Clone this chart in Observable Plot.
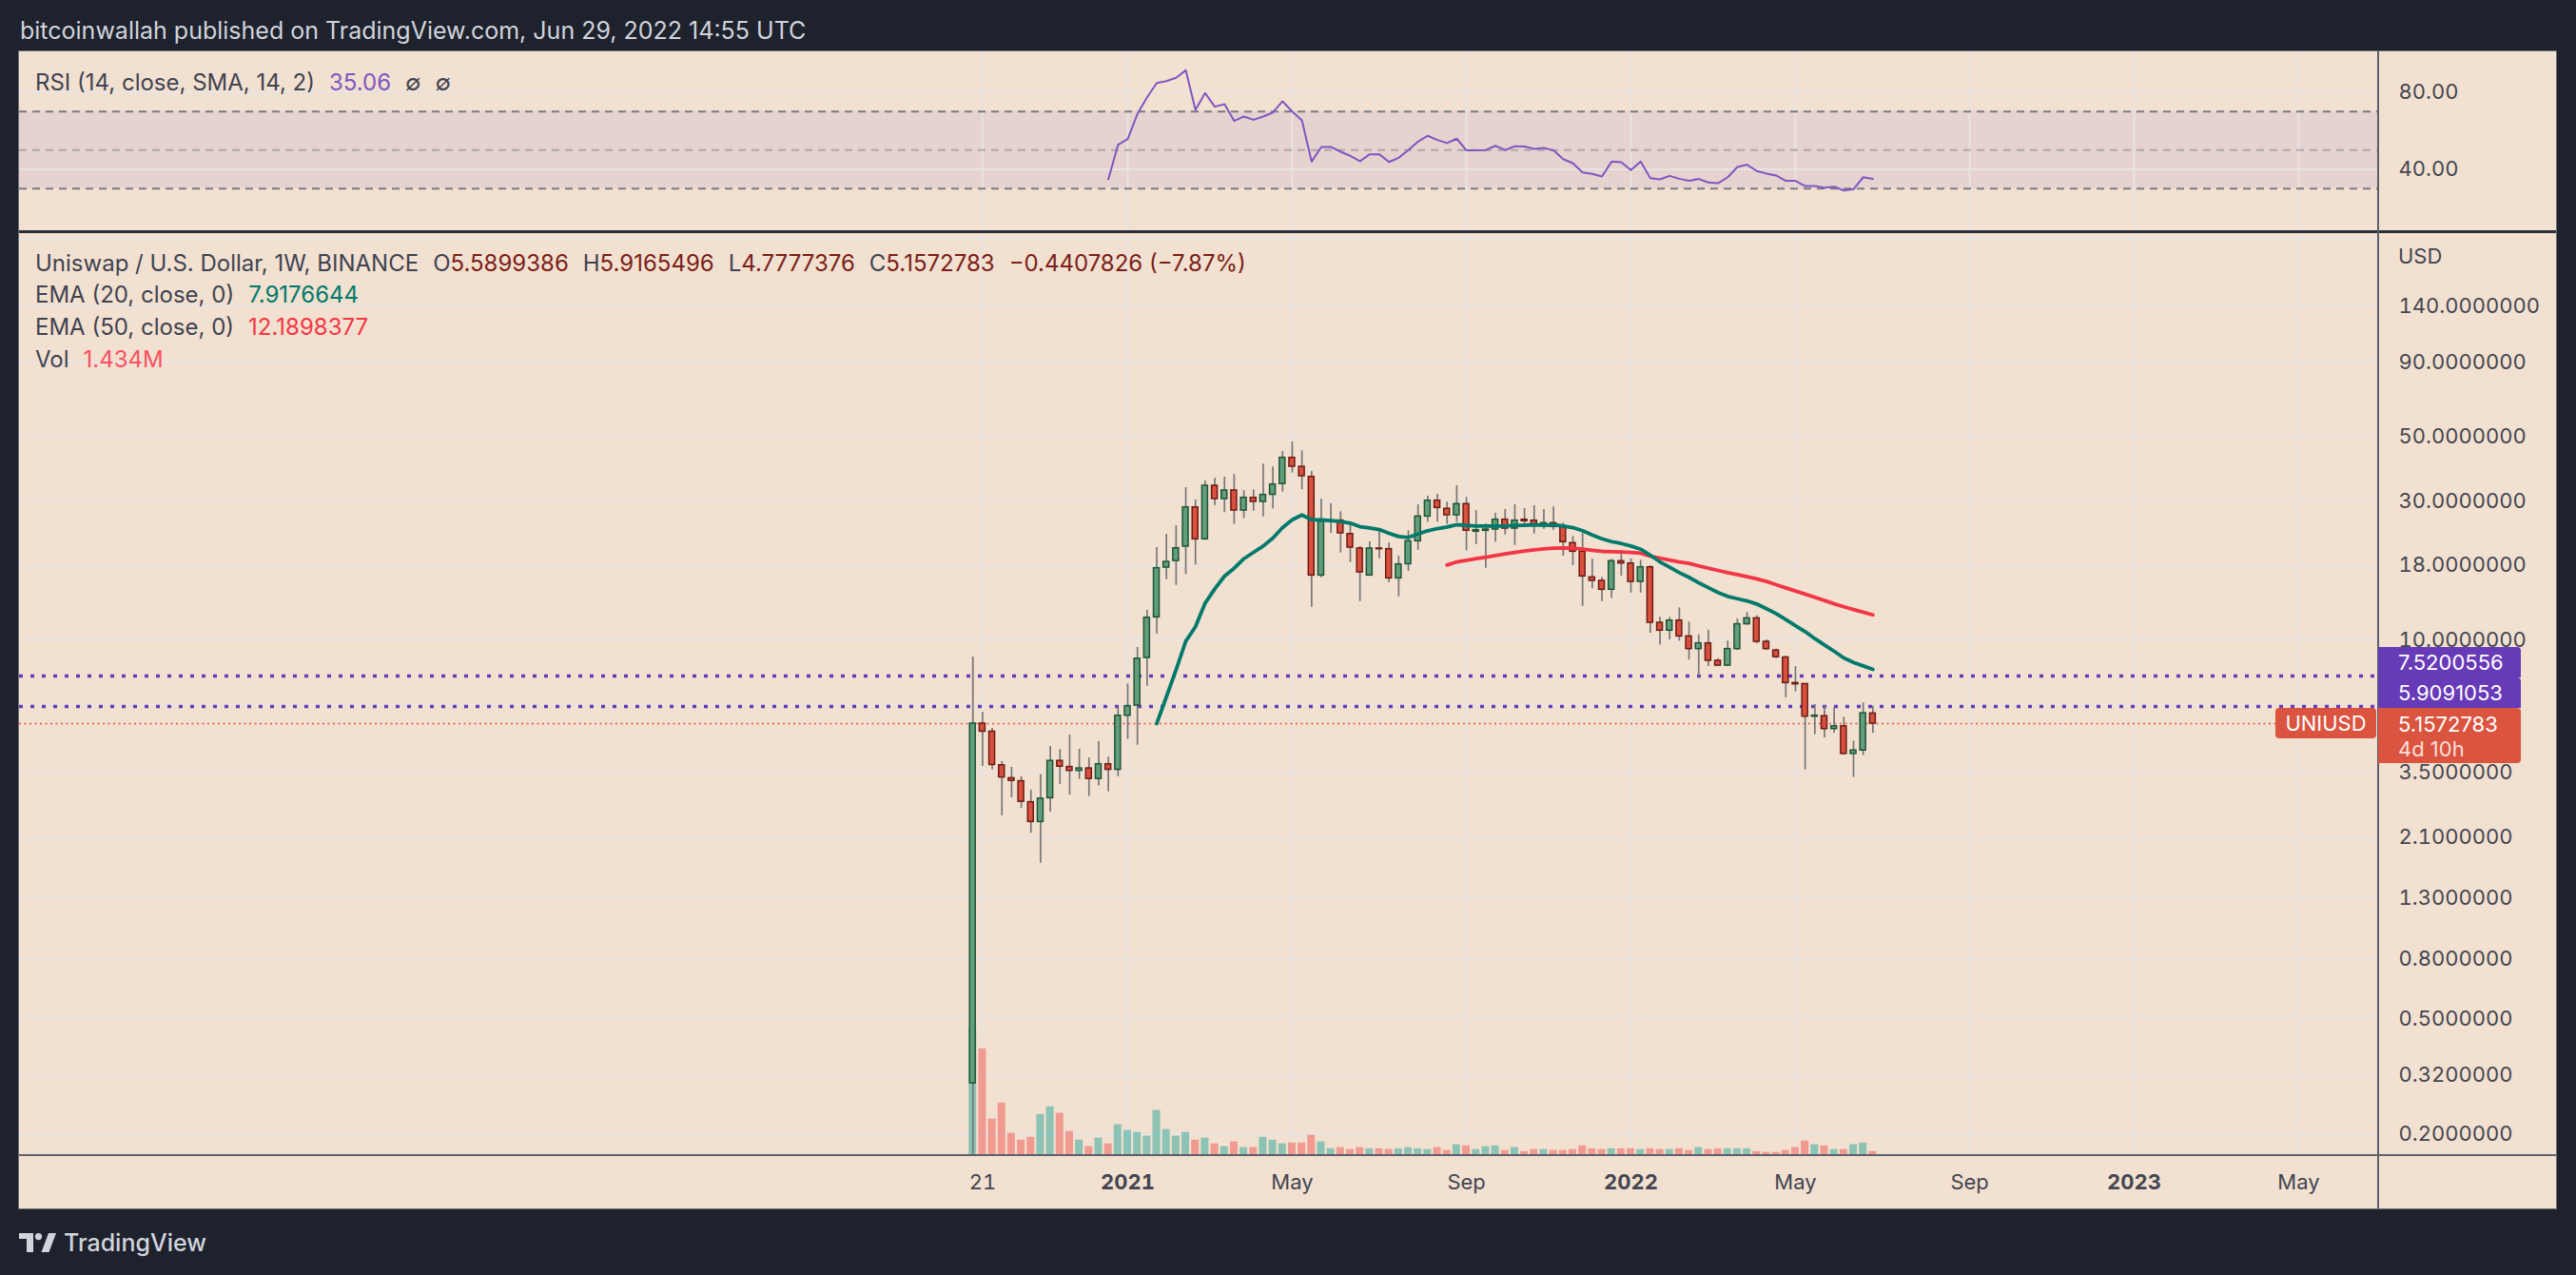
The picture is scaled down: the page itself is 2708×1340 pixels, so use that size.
<!DOCTYPE html>
<html>
<head>
<meta charset="utf-8">
<script src="https://cdn.jsdelivr.net/npm/d3@7"></script>
<script src="https://cdn.jsdelivr.net/npm/@observablehq/plot@0.6"></script>
<style>
html,body{margin:0;padding:0;background:#1e222d;}
body{width:2708px;height:1340px;position:relative;overflow:hidden;font-family:Inter,"Noto Sans",sans-serif;}
#root{position:absolute;left:0;top:0;width:2708px;height:1340px;}
.abs{position:absolute;white-space:nowrap;}
.legend{position:absolute;white-space:nowrap;font-size:24px;line-height:26px;color:#3f4350;}
.legend span{display:inline-block;}
.gap{margin-left:15px;}
.box{position:absolute;color:#fff;font-size:22px;box-sizing:border-box;padding-left:21px;}
svg{max-width:none !important;}
</style>
</head>
<body>
<div id="root"></div>
<script>
// ---------------- data ----------------
const firstWeek = "2020-09-14"; // first weekly bar (Monday)
const open = [0.30,5.16,4.84,3.71,3.35,3.27,2.77,2.37,2.86,3.84,
  3.66,3.55,3.62,3.33,3.74,3.58,5.49,5.95,8.67,11.95,
  17.72,18.67,20.91,28.52,22.15,33.84,30.46,32.60,27.82,30.76,
  29.78,31.50,34.30,42.20,39.30,36.30,16.64,25.45,25.70,23.10,
  20.60,16.64,20.60,20.49,16.27,18.20,21.82,26.53,30.07,28.20,
  26.80,29.27,23.53,23.70,23.94,25.87,24.12,25.87,25.68,24.91,
  25.18,24.43,21.50,20.09,16.40,15.95,14.87,18.63,18.30,15.82,
  17.76,11.45,10.76,11.65,10.28,9.30,9.73,8.48,8.16,9.30,
  11.32,11.86,9.85,9.20,8.70,7.11,7.05,5.45,5.47,4.94,
  5.05,4.06,4.17,5.5899386];
const high = [8.73,5.63,4.97,3.82,3.65,3.39,3.05,3.45,4.31,4.20,
  4.71,4.21,3.93,4.47,3.96,5.85,7.06,9.42,12.63,20.75,
  23.05,24.67,33.34,30.23,35.14,35.94,36.20,36.95,32.52,32.77,
  40.14,39.25,44.37,47.83,44.60,37.88,30.46,29.33,27.55,25.23,
  20.91,21.71,23.99,21.54,19.39,23.71,29.11,31.15,31.62,29.72,
  33.84,30.85,27.82,25.05,27.21,28.04,29.11,28.25,28.89,28.04,
  28.61,25.18,22.65,23.23,18.92,16.40,18.92,20.24,19.00,18.77,
  18.00,11.95,11.95,12.88,11.51,10.41,10.81,8.62,9.90,11.80,
  12.41,12.10,10.00,9.30,8.80,8.10,7.08,6.00,5.92,5.85,
  5.42,4.49,6.07,5.9165496];
const low = [0.17,3.68,3.58,2.49,2.87,2.64,2.17,1.71,2.56,3.19,
  2.93,3.32,2.90,3.15,3.01,3.39,4.55,4.35,6.93,10.49,
  16.10,15.39,16.77,18.08,21.99,28.96,27.35,24.91,26.14,27.68,
  26.46,28.18,32.18,37.41,32.77,12.94,16.35,23.23,19.88,18.44,
  13.54,16.60,19.00,15.74,14.06,17.19,20.33,25.37,25.37,24.91,
  25.37,20.24,21.27,17.63,21.66,22.94,21.11,24.43,23.10,23.99,
  23.82,19.39,18.00,13.04,14.98,13.54,13.89,16.56,14.49,14.49,
  10.54,9.61,10.00,9.90,8.52,7.51,8.10,8.10,8.10,9.20,
  11.25,9.70,9.20,8.62,6.33,6.63,3.58,4.72,4.61,4.78,
  4.03,3.37,4.01,4.7777376];
const close = [5.16,4.84,3.72,3.37,3.28,2.78,2.37,2.85,3.84,3.67,
  3.55,3.62,3.33,3.74,3.58,5.49,5.92,8.62,11.92,17.63,
  18.53,20.64,28.52,22.15,33.84,30.46,32.60,27.82,30.76,29.78,
  31.47,34.18,42.20,39.34,36.48,16.64,25.49,25.70,23.23,20.75,
  17.06,20.60,20.49,16.27,18.16,21.82,26.53,30.07,28.39,26.80,
  29.27,23.71,23.82,23.94,25.87,24.12,25.68,25.56,24.91,25.18,
  24.43,21.66,20.09,16.52,15.95,14.87,18.63,18.30,15.82,17.76,
  11.45,10.76,11.65,10.28,9.30,9.73,8.48,8.16,9.30,11.32,
  11.86,9.85,9.30,8.73,7.11,7.04,5.45,5.49,4.94,5.05,
  4.06,4.17,5.5980609,5.1572783];
// weekly volume, millions of UNI
const volume = [45,37.4,12.8,18.4,7.8,5.4,6.4,14.4,17.1,14.8,
  8.4,5.4,3.1,6.1,4.1,10.8,8.8,8.1,6.8,15.8,
  9.1,6.8,8.1,5.4,6.1,4.1,3.1,4.8,2.8,2.8,
  6.4,5.4,4.1,4.4,4.4,7.1,4.8,2.4,2.8,2.1,
  2.8,2.4,2.4,2.1,2.4,2.8,2.4,2.1,2.8,1.8,
  3.8,3.4,2.1,3.1,3.4,1.8,2.8,1.4,2.1,2.1,
  1.8,1.8,2.1,3.4,2.4,2.1,2.4,2.4,2.4,2.1,
  2.4,2.1,2.1,2.4,1.8,2.8,2.1,2.4,2.4,2.4,
  2.4,1.4,1.1,1.1,1.8,2.8,5.1,3.8,3.4,2.1,
  2.1,3.8,4.4,1.434];
// RSI(14) from the 15th bar
const rsi = [34.9,52.7,55.7,68.7,77.4,84.8,85.8,87.5,91.4,70.8,
  79.6,72.5,73.8,65.1,67.4,65.7,67.4,69.5,75.3,70.0,
  65.4,44.0,51.6,51.6,49.1,47.0,44.2,47.8,47.8,43.8,
  46.0,50.0,54.4,57.4,55.2,53.6,55.9,49.8,49.8,50.0,
  52.2,50.0,52.0,51.8,50.6,51.1,49.8,45.3,43.2,38.4,
  37.6,36.3,44.0,43.7,39.6,44.0,35.4,34.8,36.6,35.1,
  34.0,35.0,33.2,32.8,35.9,41.2,42.4,39.1,37.8,36.8,
  34.0,34.0,31.3,31.3,30.5,31.0,29.0,29.7,35.9,35.06];
// EMA 20 from the 20th bar
const ema20 = [5.16,6.38,7.90,9.90,11.09,13.38,14.98,16.56,17.63,19.00,
  19.98,21.01,22.37,24.30,25.87,26.86,25.87,25.81,25.68,25.49,
  25.18,24.48,24.25,23.94,23.23,22.65,22.49,23.10,23.71,24.12,
  24.43,24.86,24.73,24.61,24.61,24.61,24.61,24.73,24.73,24.86,
  24.73,24.86,24.61,24.30,23.71,22.94,22.25,21.75,21.43,21.01,
  20.49,19.54,18.53,17.76,17.02,16.40,15.71,15.12,14.54,14.10,
  13.85,13.61,13.28,12.79,12.31,11.74,11.19,10.68,10.10,9.61,
  9.14,8.67,8.37,8.14,7.9176644];
// EMA 50 from the 50th bar
const ema50 = [18.08,18.53,18.77,19.00,19.24,19.49,19.73,19.98,20.18,20.39,
  20.54,20.64,20.70,20.64,20.49,20.30,20.14,20.09,20.04,19.98,
  19.84,19.39,19.10,18.80,18.53,18.30,17.95,17.63,17.32,17.02,
  16.77,16.47,16.20,15.87,15.48,15.09,14.72,14.36,14.00,13.65,
  13.30,12.99,12.72,12.46,12.1898377];
const levels = [7.5200556, 5.9091053];
const priceGridTicks = [240,140,90,50,30,18,10,6,3.5,2.1,1.3,0.8,0.5,0.32,0.2];
const priceLabelTicks = [140,90,50,30,18,10,3.5,2.1,1.3,0.8,0.5,0.32,0.2];
const rsiTicks = [80,40];
const rsiBands = [70,50,30];
const timeTickDays = ["2020-09-21","2021-01-04","2021-05-03","2021-09-06","2022-01-03","2022-05-02","2022-09-05","2023-01-02","2023-05-01"];
const timeLabels = ["21","2021","May","Sep","2022","May","Sep","2023","May"];
const headerText = "bitcoinwallah published on TradingView.com, Jun 29, 2022 14:55 UTC";
const symbolText = "Uniswap / U.S. Dollar, 1W, BINANCE";
const countdown = "4d 10h";

// ---------------- build ----------------
const DAY = 864e5;
const root = document.getElementById("root");
const start = new Date(firstWeek + "T00:00:00Z");
const bars = open.map((o, i) => ({date: d3.utcDay.offset(start, 7 * i), open: o, high: high[i], low: low[i], close: close[i], volume: volume[i]}));
const up = bars.filter(d => d.close >= d.open);
const down = bars.filter(d => d.close < d.open);
const rsiData = rsi.map((v, i) => ({date: bars[i + 14].date, v}));
const ema20Data = ema20.map((v, i) => ({date: bars[i + 19].date, v}));
const ema50Data = ema50.map((v, i) => ({date: bars[i + 49].date, v}));
const tickDates = timeTickDays.map(s => new Date(s + "T00:00:00Z"));
const labelOf = new Map(tickDates.map((d, i) => [+d, timeLabels[i]]));
const isYear = s => /^\d{4}$/.test(s);
const yearTicks = tickDates.filter((d, i) => isYear(timeLabels[i]));
const otherTicks = tickDates.filter((d, i) => !isYear(timeLabels[i]));

// layout
const PANEL_L = 20, PANEL_T = 54, PANEL_R = 2687, PANEL_B = 1270;
const W = PANEL_R - PANEL_L;          // plot svg width
const MR = 187;                       // price-axis column
const RSI_T = 54, RSI_H = 189;
const MAIN_T = 246, MAIN_H = 968, TIME_H = 56;
const t0 = Date.UTC(2021, 0, 4);
const xDomain = [new Date(t0 - 801.6 * DAY), new Date(t0 + 904.8 * DAY)];
const yDomain = [0.1694, 246.7];
const volMax = 322.6;

const GRID = "#e8e4e2";
const TEXT = "#434651";
const GREEN_F = "#629e7c", GREEN_S = "#1d5536";
const RED_F = "#d9503f", RED_S = "#6b1c13";
const baseStyle = {background: "transparent", fontFamily: "Inter, 'Noto Sans', sans-serif", fontSize: "22px", color: TEXT, overflow: "visible"};

function place(el, left, top) {
  el.style.position = "absolute";
  el.style.left = left + "px";
  el.style.top = top + "px";
  root.appendChild(el);
  return el;
}
function div(cls, html, left, top, css) {
  const d = document.createElement("div");
  d.className = cls;
  d.innerHTML = html;
  if (css) Object.assign(d.style, css);
  return place(d, left, top);
}

// panel background
div("abs", "", PANEL_L - 1, PANEL_T - 1, {width: W + "px", height: (PANEL_B - PANEL_T) + "px", background: "#f2e0d0", border: "1px solid #6f727c"});

// header
div("abs", headerText, 21, 16, {fontSize: "25px", lineHeight: "32px", color: "#d1d4dc"});

// RSI pane
const rsiPlot = Plot.plot({
  width: W, height: RSI_H, marginLeft: 0, marginRight: MR, marginTop: 0, marginBottom: 0,
  x: {type: "utc", domain: xDomain, axis: null},
  y: {domain: [7.63, 100.96]},
  style: baseStyle,
  marks: [
    Plot.rect([0], {x1: () => xDomain[0], x2: () => xDomain[1], y1: () => rsiBands[2], y2: () => rsiBands[0], fill: "#7e57c2", fillOpacity: 0.1}),
    Plot.ruleY(rsiTicks, {stroke: GRID, strokeWidth: 2}),
    Plot.ruleX(tickDates, {stroke: GRID, strokeWidth: 2}),
    Plot.ruleY([rsiBands[0], rsiBands[2]], {stroke: "#787b86", strokeWidth: 2, strokeDasharray: "8,6"}),
    Plot.ruleY([rsiBands[1]], {stroke: "#787b86", strokeOpacity: 0.5, strokeWidth: 2, strokeDasharray: "8,6"}),
    Plot.line(rsiData, {x: "date", y: "v", stroke: "#7e57c2", strokeWidth: 2}),
    Plot.axisY(rsiTicks, {anchor: "right", tickSize: 0, tickPadding: 21, tickFormat: d => d.toFixed(2), label: null})
  ]
});
place(rsiPlot, PANEL_L, RSI_T);

// separator between panes
div("abs", "", PANEL_L, 242, {width: W + "px", height: "3px", background: "#2a2e39"});

// main pane: grid + axes
const gridPlot = Plot.plot({
  width: W, height: MAIN_H + TIME_H, marginLeft: 0, marginRight: MR, marginTop: 0, marginBottom: TIME_H,
  x: {type: "utc", domain: xDomain},
  y: {type: "log", domain: yDomain},
  style: baseStyle,
  marks: [
    Plot.ruleY(priceGridTicks, {stroke: GRID, strokeWidth: 2}),
    Plot.ruleX(tickDates, {stroke: GRID, strokeWidth: 2}),
    Plot.axisY(priceLabelTicks, {anchor: "right", tickSize: 0, tickPadding: 21, tickFormat: d => d.toFixed(7), label: null}),
    Plot.axisX(otherTicks, {anchor: "bottom", tickSize: 0, tickPadding: 20, tickFormat: d => labelOf.get(+d), label: null}),
    Plot.axisX(yearTicks, {anchor: "bottom", tickSize: 0, tickPadding: 20, tickFormat: d => labelOf.get(+d), label: null, fontWeight: "bold"})
  ]
});
place(gridPlot, PANEL_L, MAIN_T);

// volume overlay
const volPlot = Plot.plot({
  width: W, height: MAIN_H, marginLeft: 0, marginRight: MR, marginTop: 0, marginBottom: 0,
  x: {type: "utc", domain: xDomain, axis: null},
  y: {domain: [0, volMax], axis: null},
  style: baseStyle,
  marks: [
    Plot.rectY(up, {x1: d => new Date(+d.date - 3.5 * DAY), x2: d => new Date(+d.date + 3.5 * DAY), y: "volume", fill: "rgba(38,166,154,0.5)", insetLeft: 1.1, insetRight: 1.1}),
    Plot.rectY(down, {x1: d => new Date(+d.date - 3.5 * DAY), x2: d => new Date(+d.date + 3.5 * DAY), y: "volume", fill: "rgba(239,83,80,0.5)", insetLeft: 1.1, insetRight: 1.1})
  ]
});
place(volPlot, PANEL_L, MAIN_T);

// price: candles, EMAs, levels
const last = bars[bars.length - 1];
const prev = bars[bars.length - 2];
const pricePlot = Plot.plot({
  width: W, height: MAIN_H, marginLeft: 0, marginRight: MR, marginTop: 0, marginBottom: 0,
  x: {type: "utc", domain: xDomain, axis: null},
  y: {type: "log", domain: yDomain, axis: null},
  style: baseStyle,
  marks: [
    Plot.ruleY(levels, {stroke: "#673ab7", strokeWidth: 3.5, strokeDasharray: "4,8"}),
    Plot.ruleY([last.close], {stroke: "#e0533f", strokeWidth: 1.6, strokeDasharray: "2,3.5"}),
    Plot.ruleX(bars, {x: "date", y1: "low", y2: "high", stroke: "#777777", strokeWidth: 1.7}),
    Plot.rect(up, {x1: d => new Date(+d.date - 3.5 * DAY), x2: d => new Date(+d.date + 3.5 * DAY), y1: "open", y2: "close", fill: GREEN_F, stroke: GREEN_S, strokeWidth: 1.5, insetLeft: 2.1, insetRight: 2.1}),
    Plot.rect(down, {x1: d => new Date(+d.date - 3.5 * DAY), x2: d => new Date(+d.date + 3.5 * DAY), y1: "open", y2: "close", fill: RED_F, stroke: RED_S, strokeWidth: 1.5, insetLeft: 2.1, insetRight: 2.1}),
    Plot.line(ema50Data, {x: "date", y: "v", stroke: "#f23645", strokeWidth: 3.8}),
    Plot.line(ema20Data, {x: "date", y: "v", stroke: "#00796b", strokeWidth: 3.8})
  ]
});
place(pricePlot, PANEL_L, MAIN_T);

// structural lines
div("abs", "", PANEL_L + W - MR - 1, PANEL_T, {width: "2px", height: (PANEL_B - PANEL_T) + "px", background: "#5d606b"});
div("abs", "", PANEL_L, MAIN_T + MAIN_H - 1, {width: W + "px", height: "2px", background: "#5d606b"});

// axis overlay labels, placed with the price scale
const ys = pricePlot.scale("y");
const yLast = MAIN_T + ys.apply(last.close);
const axisX0 = PANEL_L + W - MR;
const fmt7 = v => v.toFixed(7);
div("box", `<div style="line-height:34px">${fmt7(last.close)}</div><div style="line-height:18px;color:rgba(255,255,255,0.82)">${countdown}</div>`,
  axisX0, yLast - 16, {width: "150px", height: "58px", background: "#db5440", borderRadius: "0 4px 4px 0"});
div("box", "UNIUSD", axisX0 - 108, yLast - 16, {width: "106px", height: "32px", lineHeight: "32px", background: "#db5440", padding: "0", textAlign: "center", borderRadius: "4px"});
div("box", fmt7(levels[1]), axisX0, yLast - 48, {width: "150px", height: "32px", lineHeight: "32px", background: "#673ab7", borderRadius: "0 4px 0 0"});
div("box", fmt7(levels[0]), axisX0, yLast - 80, {width: "150px", height: "32px", lineHeight: "32px", background: "#673ab7", borderRadius: "0 4px 0 0"});
div("abs", "USD", axisX0 + 21, 256, {fontSize: "22px", lineHeight: "26px", color: TEXT});

// legends
const chg = last.close - prev.close;
const pct = chg / prev.close * 100;
const VAL = "#7b2018";
div("legend", `RSI (14, close, SMA, 14, 2)<span class="gap" style="color:#7e57c2">${rsi[rsi.length - 1].toFixed(2)}</span><span class="gap">\u2205</span><span class="gap">\u2205</span>`, 37, 74);
div("legend", `${symbolText}<span class="gap">O<span style="color:${VAL}">${last.open.toFixed(7)}</span></span><span class="gap">H<span style="color:${VAL}">${last.high.toFixed(7)}</span></span><span class="gap">L<span style="color:${VAL}">${last.low.toFixed(7)}</span></span><span class="gap">C<span style="color:${VAL}">${last.close.toFixed(7)}</span></span><span class="gap" style="color:${VAL}">${(chg < 0 ? "\u2212" : "+") + Math.abs(chg).toFixed(7)} (${(pct < 0 ? "\u2212" : "+") + Math.abs(pct).toFixed(2)}%)</span>`, 37, 264);
div("legend", `EMA (20, close, 0)<span class="gap" style="color:#00796b">${ema20[ema20.length - 1].toFixed(7)}</span>`, 37, 297);
div("legend", `EMA (50, close, 0)<span class="gap" style="color:#f23645">${ema50[ema50.length - 1].toFixed(7)}</span>`, 37, 331);
div("legend", `Vol<span class="gap" style="color:#f7525f">${volume[volume.length - 1].toFixed(3)}M</span>`, 37, 365);

// footer logo
div("abs", `<svg width="39" height="20" viewBox="0 0 39 20" style="vertical-align:middle"><path d="M0 0H15V20H8V6H0Z" fill="#d1d4dc"/><circle cx="20.5" cy="3.6" r="3.6" fill="#d1d4dc"/><path d="M23.5 20L31 0H39L31.5 20Z" fill="#d1d4dc"/></svg><span style="margin-left:8px;vertical-align:middle">TradingView</span>`,
  20, 1288, {fontSize: "25px", fontWeight: "500", lineHeight: "32px", color: "#d1d4dc"});
</script>
</body>
</html>
